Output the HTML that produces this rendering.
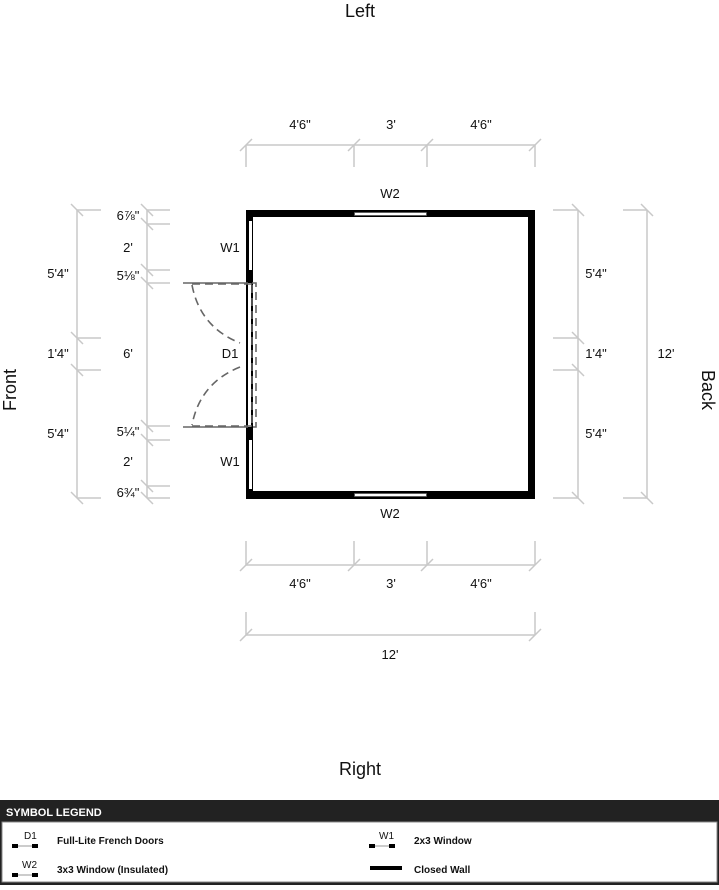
<!DOCTYPE html>
<html><head><style>
body{margin:0;background:#fff;width:719px;height:885px;overflow:hidden;font-family:"Liberation Sans",sans-serif;}
</style></head><body>
<svg width="719" height="885" viewBox="0 0 719 885" xmlns="http://www.w3.org/2000/svg" font-family="Liberation Sans, sans-serif">
<g stroke="#c8c8c8" stroke-width="1.5" fill="none">
<line x1="246" y1="145" x2="535" y2="145"/>
<line x1="246" y1="145" x2="246" y2="167"/><line x1="354" y1="145" x2="354" y2="167"/><line x1="427" y1="145" x2="427" y2="167"/><line x1="535" y1="145" x2="535" y2="167"/>
<line x1="240" y1="151" x2="252" y2="139"/><line x1="348" y1="151" x2="360" y2="139"/><line x1="421" y1="151" x2="433" y2="139"/><line x1="529" y1="151" x2="541" y2="139"/>
<line x1="246" y1="565" x2="535" y2="565"/>
<line x1="246" y1="541" x2="246" y2="565"/><line x1="354" y1="541" x2="354" y2="565"/><line x1="427" y1="541" x2="427" y2="565"/><line x1="535" y1="541" x2="535" y2="565"/>
<line x1="240" y1="571" x2="252" y2="559"/><line x1="348" y1="571" x2="360" y2="559"/><line x1="421" y1="571" x2="433" y2="559"/><line x1="529" y1="571" x2="541" y2="559"/>
<line x1="246" y1="635" x2="535" y2="635"/>
<line x1="246" y1="612" x2="246" y2="635"/><line x1="535" y1="612" x2="535" y2="635"/>
<line x1="240" y1="641" x2="252" y2="629"/><line x1="529" y1="641" x2="541" y2="629"/>
<line x1="77" y1="210" x2="77" y2="498"/>
<line x1="77" y1="210" x2="101" y2="210"/><line x1="77" y1="338" x2="101" y2="338"/><line x1="77" y1="370" x2="101" y2="370"/><line x1="77" y1="498" x2="101" y2="498"/>
<line x1="71" y1="204" x2="83" y2="216"/><line x1="71" y1="332" x2="83" y2="344"/><line x1="71" y1="364" x2="83" y2="376"/><line x1="71" y1="492" x2="83" y2="504"/>
<line x1="147" y1="210" x2="147" y2="498"/>
<line x1="147" y1="210" x2="170" y2="210"/><line x1="147" y1="224" x2="170" y2="224"/><line x1="147" y1="270" x2="170" y2="270"/><line x1="147" y1="283" x2="170" y2="283"/>
<line x1="147" y1="426" x2="170" y2="426"/><line x1="147" y1="440" x2="170" y2="440"/><line x1="147" y1="486" x2="170" y2="486"/><line x1="147" y1="498" x2="170" y2="498"/>
<line x1="141" y1="204" x2="153" y2="216"/><line x1="141" y1="218" x2="153" y2="230"/><line x1="141" y1="264" x2="153" y2="276"/><line x1="141" y1="277" x2="153" y2="289"/>
<line x1="141" y1="420" x2="153" y2="432"/><line x1="141" y1="434" x2="153" y2="446"/><line x1="141" y1="480" x2="153" y2="492"/><line x1="141" y1="492" x2="153" y2="504"/>
<line x1="578" y1="210" x2="578" y2="498"/>
<line x1="553" y1="210" x2="578" y2="210"/><line x1="553" y1="338" x2="578" y2="338"/><line x1="553" y1="370" x2="578" y2="370"/><line x1="553" y1="498" x2="578" y2="498"/>
<line x1="572" y1="204" x2="584" y2="216"/><line x1="572" y1="332" x2="584" y2="344"/><line x1="572" y1="364" x2="584" y2="376"/><line x1="572" y1="492" x2="584" y2="504"/>
<line x1="647" y1="210" x2="647" y2="498"/>
<line x1="623" y1="210" x2="647" y2="210"/><line x1="623" y1="498" x2="647" y2="498"/>
<line x1="641" y1="204" x2="653" y2="216"/><line x1="641" y1="492" x2="653" y2="504"/>
</g>
<rect x="246" y="210" width="289" height="7" fill="#000"/>
<rect x="246" y="491" width="289" height="8" fill="#000"/>
<rect x="528" y="210" width="7" height="289" fill="#000"/>
<rect x="246" y="210" width="7" height="289" fill="#000"/>
<rect x="249" y="221" width="3" height="49" fill="#fff"/>
<rect x="249" y="440" width="3" height="49" fill="#fff"/>
<rect x="248" y="283" width="3" height="144" fill="#fff"/>
<rect x="253" y="283" width="3" height="144" fill="#fff"/>
<rect x="354.5" y="212.5" width="72" height="3" fill="#fff" stroke="#555" stroke-width="0.8"/>
<rect x="354.5" y="493.5" width="72" height="3" fill="#fff" stroke="#555" stroke-width="0.8"/>
<line x1="183" y1="283" x2="248" y2="283" stroke="#666" stroke-width="1.5"/>
<line x1="183" y1="427" x2="248" y2="427" stroke="#666" stroke-width="1.5"/>
<g stroke="#666" stroke-width="1.6" fill="none" stroke-dasharray="8,5">
<rect x="252" y="283" width="4" height="144"/>
<line x1="192" y1="284" x2="252" y2="284"/>
<line x1="192" y1="426" x2="252" y2="426"/>
<path d="M192,285 Q200,327 240,343"/>
<path d="M240,367 Q200,383 192,425"/>
</g>
<g font-size="13" fill="#111" text-anchor="middle">
<text x="300" y="129">4'6"</text><text x="391" y="129">3'</text><text x="481" y="129">4'6"</text>
<text x="390" y="198">W2</text><text x="390" y="518">W2</text>
<text x="300" y="588">4'6"</text><text x="391" y="588">3'</text><text x="481" y="588">4'6"</text>
<text x="390" y="659">12'</text>
<text x="58" y="278">5'4"</text><text x="58" y="358">1'4"</text><text x="58" y="438">5'4"</text>
<text x="128" y="220">6⅞"</text><text x="128" y="252">2'</text><text x="128" y="280">5⅛"</text><text x="128" y="358">6'</text>
<text x="128" y="436">5¼"</text><text x="128" y="466">2'</text><text x="128" y="497">6¾"</text>
<text x="230" y="252">W1</text><text x="230" y="358">D1</text><text x="230" y="466">W1</text>
<text x="596" y="278">5'4"</text><text x="596" y="358">1'4"</text><text x="596" y="438">5'4"</text>
<text x="666" y="358">12'</text>
</g>
<g font-size="18" fill="#111" text-anchor="middle">
<text x="360" y="17">Left</text><text x="360" y="775">Right</text>
<text transform="translate(16,390) rotate(-90)">Front</text>
<text transform="translate(702,390) rotate(90)">Back</text>
</g>
<rect x="0" y="800" width="719" height="85" fill="#222"/>
<rect x="2" y="822" width="715" height="60" fill="#fff" stroke="#888"/>
<text x="6" y="816" font-size="11" font-weight="bold" fill="#fff">SYMBOL LEGEND</text>
<g font-size="10" font-weight="bold" fill="#111">
<text x="24" y="839" font-weight="normal">D1</text>
<rect x="12" y="844" width="6" height="4" fill="#000"/><rect x="18" y="845" width="14" height="2" fill="#ccc"/><rect x="32" y="844" width="6" height="4" fill="#000"/>
<text x="57" y="844">Full-Lite French Doors</text>
<text x="22" y="868" font-weight="normal">W2</text>
<rect x="12" y="873" width="6" height="4" fill="#000"/><rect x="18" y="874" width="14" height="2" fill="#ccc"/><rect x="32" y="873" width="6" height="4" fill="#000"/>
<text x="57" y="873">3x3 Window (Insulated)</text>
<text x="379" y="839" font-weight="normal">W1</text>
<rect x="369" y="844" width="6" height="4" fill="#000"/><rect x="375" y="845" width="14" height="2" fill="#ccc"/><rect x="389" y="844" width="6" height="4" fill="#000"/>
<text x="414" y="844">2x3 Window</text>
<rect x="370" y="866" width="32" height="4" fill="#000"/>
<text x="414" y="873">Closed Wall</text>
</g>
</svg>
</body></html>
